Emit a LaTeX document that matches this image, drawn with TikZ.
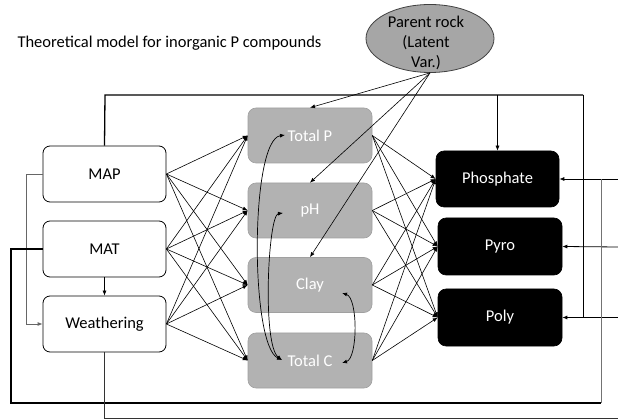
\documentclass[tikz,border=0pt]{standalone}
\usepackage{fontspec}
\setmainfont{Carlito}
\usetikzlibrary{arrows.meta,shapes.geometric}
\definecolor{midgray}{RGB}{178,178,178}
\definecolor{midborder}{RGB}{160,160,160}
\definecolor{ellgray}{RGB}{166,166,166}
\begin{document}
\begin{tikzpicture}[x=1pt,y=-1pt,
  every node/.style={font=\fontsize{16.5}{20}\selectfont},
  leftbox/.style={draw=black, line width=0.8pt, rounded corners=7pt, fill=white, minimum width=123pt, minimum height=56pt, inner sep=0pt},
  midbox/.style={draw=midborder, line width=0.6pt, rounded corners=8pt, fill=midgray, text=white, minimum width=124pt, minimum height=55pt, inner sep=0pt},
  rightbox/.style={draw=black, line width=0.6pt, rounded corners=8pt, fill=black, text=white, minimum width=123pt, minimum height=56pt, inner sep=0pt},
  tip/.tip={Latex[length=5pt,width=4pt]},
  conn/.style={line width=0.6pt, -tip},
  twoway/.style={line width=0.7pt, tip-tip},
  frameline/.style={line width=1.3pt},
  ]
\useasboundingbox (0,0) rectangle (618,419);

% title
\node[anchor=west] (title) at (14,43) {Theoretical model for inorganic P compounds};

% latent variable
\node[ellipse, draw=black!75, fill=ellgray, line width=0.8pt, minimum width=128pt, minimum height=68pt, inner sep=0pt] (rock) at (430,38.5) {};
\node[align=center, inner sep=0pt] (rocktext) at (426,43) {Parent rock\\(Latent\\Var.)};

% left column
\node[leftbox] (MAP) at (104.5,174) {MAP};
\node[leftbox] (MAT) at (104.5,249) {MAT};
\node[leftbox] (Weathering) at (104.5,324) {Weathering};

% middle column
\node[midbox] (TotalP) at (310,135.5) {Total P};
\node[midbox] (pH) at (310,210.5) {pH};
\node[midbox] (Clay) at (310,285) {Clay};
\node[midbox] (TotalC) at (310,360.5) {Total C};

% right column
\node[rightbox] (Phosphate) at (497.5,179) {Phosphate};
\node[rightbox, minimum width=124pt, minimum height=57pt] (Pyro) at (500,246.5) {Pyro};
\node[rightbox, minimum width=124pt, minimum height=57pt] (Poly) at (500,317.5) {Poly};

% left -> middle
\foreach \a in {MAP,MAT,Weathering}
  \foreach \b in {TotalP,pH,Clay,TotalC}
    \draw[conn] (\a.east) -- (\b.west);

% middle -> right
\foreach \a in {TotalP,pH,Clay,TotalC}
  \foreach \b in {Phosphate,Pyro,Poly}
    \draw[conn] (\a.east) -- (\b.west);

% parent rock -> middle
\draw[conn] (rock.south) -- (TotalP.north);
\draw[conn] (rock.south) -- (pH.north);
\draw[conn] (rock.south) -- (Clay.north);

% curved correlations
\coordinate (tpL) at (285,135);
\coordinate (phL) at (283,213);
\coordinate (tcL) at (282,360);
\coordinate (clR) at (342,293);
\coordinate (tcR) at (342,363);
\draw[twoway] (tpL) .. controls (250,140) and (250,345) .. (tcL);
\draw[twoway] (phL) .. controls (268,215) and (262,345) .. (tcL);
\draw[twoway] (clR) .. controls (358,298) and (358,358) .. (tcR);

% left-side links
\coordinate (mapL) at (26,174);
\draw[conn, line width=0.8pt, draw=black!60] (MAP.west) -- (mapL) |- (Weathering.west);
\draw[conn] (MAT.south) -- (Weathering.north);

% top frame
\coordinate (tl) at (105,95);
\coordinate (tr) at (583,95);
\draw[frameline] (MAP.north) -- (tl) -- (tr);
\draw[line width=1pt] (tr) -- (tr |- Poly.east);
\draw[conn] (Phosphate.north |- tl) -- (Phosphate.north);

% right-edge inputs
\coordinate (r1) at (618,179);
\coordinate (r2) at (618,247);
\coordinate (r3) at (618,317.5);
\draw[conn, line width=0.8pt] (r1) -- (Phosphate.east);
\draw[conn, line width=0.8pt] (r2) -- (Pyro.east);
\draw[conn, line width=0.8pt] (r3) -- (Poly.east);

% bottom loop from MAT
\coordinate (botL) at (11,403);
\coordinate (botR) at (601,403);
\coordinate (grayTop) at (601,179);
\draw[frameline] (MAT.west) -| (botL) -- (botR);
\draw[line width=1pt, draw=black!55] (botR) -- (grayTop);

% weathering line
\coordinate (wEnd) at (618,418);
\draw[line width=1pt, draw=black!80] (Weathering.south) |- (wEnd);
\end{tikzpicture}
\end{document}
